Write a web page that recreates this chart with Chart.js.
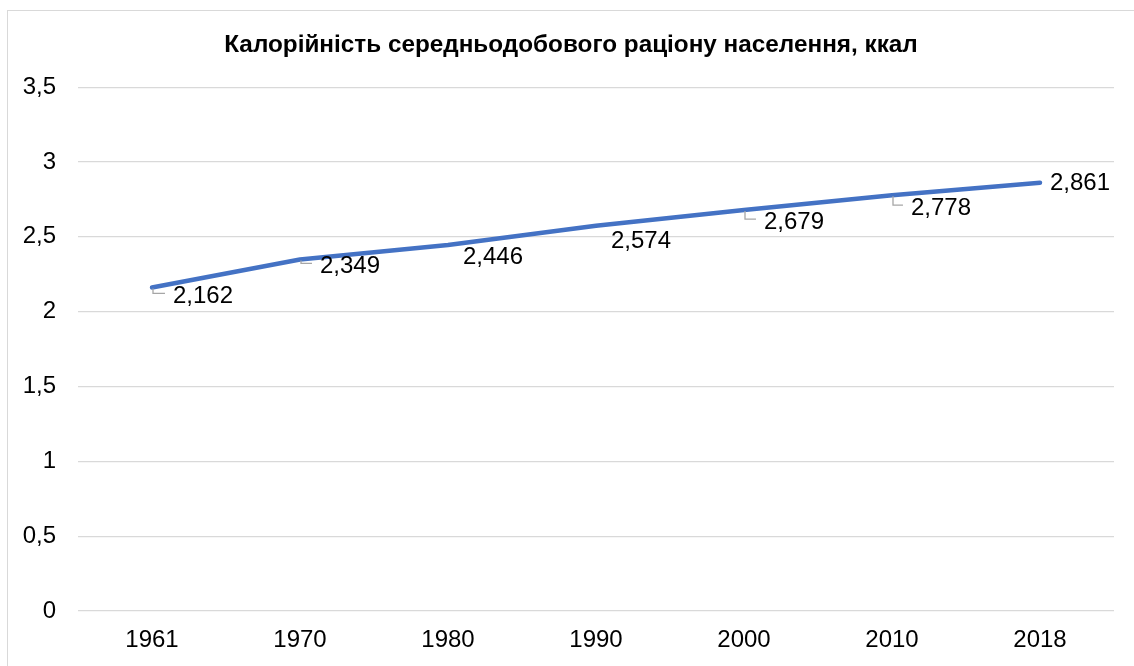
<!DOCTYPE html>
<html>
<head>
<meta charset="utf-8">
<script src="https://cdn.jsdelivr.net/npm/chart.js@4.4.1/dist/chart.umd.min.js"></script>
<style>
  html, body { margin: 0; padding: 0; background: #fff; }
  #wrap { position: relative; width: 1134px; height: 666px; }
</style>
</head>
<body>
<div id="wrap"><canvas id="chart"></canvas></div>
<script>
/* ---------------- DATA ---------------- */
const TITLE = "Калорійність середньодобового раціону населення, ккал";
const YEARS = ["1961", "1970", "1980", "1990", "2000", "2010", "2018"];
const KCAL = [2.162, 2.349, 2.446, 2.574, 2.679, 2.778, 2.861];
const Y_TICKS = [0, 0.5, 1, 1.5, 2, 2.5, 3, 3.5];
/* -------------------------------------- */

const FONT = "'Liberation Sans', Arial, sans-serif";
const LINE_COLOR = "#4472C4";

// label offsets from the point (text centre), and whether a leader line is shown
const LABEL_OFFSETS = [[51, 9, true], [50, 7, true], [45, 12, false], [45, 16, false],
                       [50, 12, true], [49, 13, true], [40, 1, false]];

const fmt = v => String(v).replace('.', ',');

/* outer frame like the spreadsheet chart box; title centred on that frame */
const framePlugin = {
  id: 'frame',
  afterLayout(chart){
    const t = chart.titleBlock;
    if(t){ t.left += 14; t.right += 14; }
  },
  beforeDraw(chart){
    const c = chart.ctx;
    c.save();
    c.fillStyle = '#fff';
    c.fillRect(0, 0, chart.width, chart.height);
    c.strokeStyle = '#d9d9d9';
    c.lineWidth = 1;
    c.strokeRect(7.5, 10.5, chart.width + 20, chart.height + 20);
    c.restore();
  }
};

/* data labels with small leader lines */
const labelPlugin = {
  id: 'dataLabels',
  afterDatasetsDraw(chart){
    const c = chart.ctx;
    const meta = chart.getDatasetMeta(0);
    c.save();
    c.font = "24px " + FONT;
    c.textAlign = 'center';
    c.textBaseline = 'middle';
    meta.data.forEach((pt, i) => {
      const [dx, dy, leader] = LABEL_OFFSETS[i];
      const txt = fmt(chart.data.datasets[0].data[i]);
      const tx = pt.x + dx, ty = pt.y + dy;
      if(leader){
        const w = c.measureText(txt).width;
        c.strokeStyle = '#a6a6a6';
        c.lineWidth = 1.3;
        c.beginPath();
        c.moveTo(pt.x + 1, pt.y + 1);
        c.lineTo(pt.x + 1, ty - 3);
        c.lineTo(tx - w / 2 - 8, ty - 3);
        c.stroke();
      }
      c.fillStyle = '#000';
      c.fillText(txt, tx, ty);
    });
    c.restore();
  }
};

new Chart(document.getElementById('chart'), {
  type: 'line',
  data: {
    labels: YEARS,
    datasets: [{
      data: KCAL,
      borderColor: LINE_COLOR,
      borderWidth: 4.5,
      pointRadius: 0,
      tension: 0,
      borderCapStyle: 'round',
      borderJoinStyle: 'round'
    }]
  },
  options: {
    responsive: true,
    maintainAspectRatio: false,
    animation: false,
    layout: { padding: { left: 0, right: 20, top: 0, bottom: 11 } },
    plugins: {
      legend: { display: false },
      tooltip: { enabled: false },
      title: {
        display: true,
        text: TITLE,
        color: '#000',
        font: { family: FONT, size: 24.3, weight: 'bold', lineHeight: 1.2 },
        padding: { top: 31, bottom: 27 }
      }
    },
    scales: {
      x: {
        offset: true,
        afterFit(axis){ axis.height = 44; },
        grid: { display: false, drawTicks: false },
        border: { display: false },
        ticks: { color: '#000', font: { family: FONT, size: 24 }, padding: 15, maxRotation: 0 }
      },
      y: {
        min: 0,
        max: 3.5,
        afterBuildTicks(axis){ axis.ticks = Y_TICKS.map(v => ({ value: v })); },
        afterFit(axis){ axis.width = 78; },
        grid: { color: '#d9d9d9', lineWidth: 1.3, drawTicks: false },
        border: { display: false },
        ticks: {
          color: '#000',
          font: { family: FONT, size: 24 },
          padding: 22,
          callback: v => fmt(v)
        }
      }
    }
  },
  plugins: [framePlugin, labelPlugin]
});
</script>
</body>
</html>
